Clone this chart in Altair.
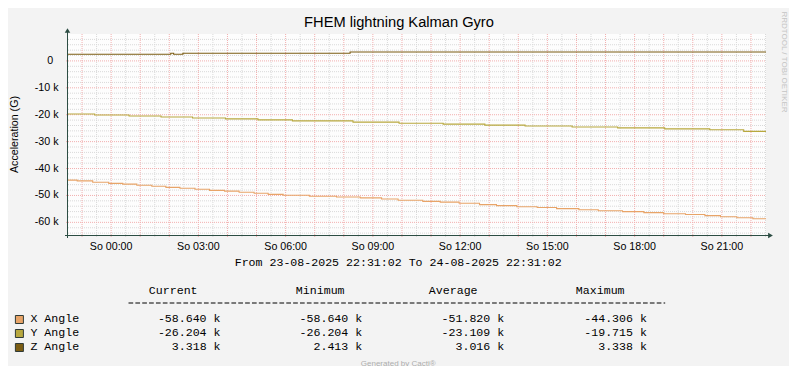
import altair as alt
import pandas as pd

# ---------------- data ----------------
TITLE = "FHEM lightning Kalman Gyro"
Y_TITLE = "Acceleration (G)"
START = "2025-08-23T22:31:02Z"
END = "2025-08-24T22:31:02Z"

x_angle_t = ["23 22:31:02", "23 22:50", "23 23:22", "23 23:55", "24 00:24", "24 00:53",
             "24 01:24", "24 01:53", "24 02:22", "24 02:53", "24 03:23", "24 03:54",
             "24 04:24", "24 04:55", "24 05:24", "24 05:55", "24 06:49", "24 07:45",
             "24 08:34", "24 09:18", "24 09:52", "24 10:43", "24 11:19", "24 11:58",
             "24 12:40", "24 13:15", "24 13:57", "24 14:39", "24 15:19", "24 16:05",
             "24 16:45", "24 17:35", "24 18:19", "24 19:00", "24 19:45", "24 20:25",
             "24 20:57", "24 21:31", "24 22:04", "24 22:31:02"]
x_angle_v = [-44.306, -44.6, -45.1, -45.5, -45.8, -46.2, -46.6, -47.0, -47.3, -47.7,
             -48.1, -48.4, -48.8, -49.2, -49.6, -49.9, -50.3, -50.6, -50.9, -51.3,
             -51.8, -52.2, -52.5, -52.9, -53.4, -53.8, -54.2, -54.5, -54.9, -55.3,
             -55.7, -56.0, -56.4, -56.8, -57.1, -57.5, -57.9, -58.3, -58.64, -58.64]

y_angle_t = ["23 22:31:02", "23 23:26", "24 00:37", "24 01:43", "24 02:48", "24 03:56",
             "24 05:03", "24 06:14", "24 08:19", "24 09:54", "24 11:25", "24 12:51",
             "24 14:14", "24 15:51", "24 17:25", "24 19:02", "24 20:35", "24 21:45",
             "24 22:31:02"]
y_angle_v = [-19.715, -20.1, -20.5, -20.85, -21.2, -21.55, -21.9, -22.3, -22.75, -23.15,
             -23.5, -23.85, -24.2, -24.55, -24.9, -25.25, -25.6, -26.204, -26.204]

z_angle_t = ["23 22:31:02", "24 02:03", "24 02:09", "24 02:28", "24 08:13", "24 22:31:02"]
z_angle_v = [2.45, 2.82, 2.45, 2.82, 3.318, 3.318]

series_names = ["X Angle", "Y Angle", "Z Angle"]
series_colors = ["#E8A468", "#B8A83E", "#7B5C12"]

stat_headers = ["Current", "Minimum", "Average", "Maximum"]
stat_current = [-58.640, -26.204, 3.318]
stat_minimum = [-58.640, -26.204, 2.413]
stat_average = [-51.820, -23.109, 3.016]
stat_maximum = [-44.306, -19.715, 3.338]

y_ticks = [-60, -50, -40, -30, -20, -10]
y_tick_labels = ["-60 k", "-50 k", "-40 k", "-30 k", "-20 k", "-10 k"]
zero_label = "0"

x_label_times = ["24 00:00", "24 03:00", "24 06:00", "24 09:00",
                 "24 12:00", "24 15:00", "24 18:00", "24 21:00"]
x_labels = ["So 00:00", "So 03:00", "So 06:00", "So 09:00",
            "So 12:00", "So 15:00", "So 18:00", "So 21:00"]

from_text = "From 23-08-2025 22:31:02 To 24-08-2025 22:31:02"
generated_text = "Generated by Cacti®"
watermark_text = "RRDTOOL / TOBI OETIKER"


def ts(s):
    d, t = s.split()
    if len(t) == 5:
        t = t + ":00"
    return f"2025-08-{d}T{t}Z"


# ---------------- styling ----------------
W, H = 698, 201
PAD = {"left": 60, "top": 26, "right": 23, "bottom": 131}
AXIS_C = "#2C4D43"
SANS = "Liberation Sans"
MONO = "Liberation Mono"
MINOR_C = "#D9D9D9"
MAJOR_C = "#F2AFAF"

start_ms = int(pd.Timestamp(START).value // 10**6)
end_ms = int(pd.Timestamp(END).value // 10**6)
xs = alt.Scale(type="utc", domain=[start_ms, end_ms])
ys = alt.Scale(domain=[-64.7, 10.0], nice=False, zero=False)

# line data
rows = []
for name, tl, vl in [("X Angle", x_angle_t, x_angle_v),
                     ("Y Angle", y_angle_t, y_angle_v),
                     ("Z Angle", z_angle_t, z_angle_v)]:
    for t, v in zip(tl, vl):
        rows.append({"time": ts(t), "value": v, "series": name})
df_lines = pd.DataFrame(rows)

# grid
major_times = pd.date_range("2025-08-23 23:00", "2025-08-24 22:00", freq="1h", tz="UTC")
minor_times = pd.date_range("2025-08-23 23:30", "2025-08-24 22:30", freq="1h", tz="UTC")
df_vmaj = pd.DataFrame({"t": [d.strftime("%Y-%m-%dT%H:%M:%SZ") for d in major_times]})
df_vmin = pd.DataFrame({"t": [d.strftime("%Y-%m-%dT%H:%M:%SZ") for d in minor_times]})
df_hmaj = pd.DataFrame({"v": [-60, -50, -40, -30, -20, -10, 0]})
df_hmin = pd.DataFrame({"v": [v for v in range(-64, 10, 2) if v % 10 != 0]})

layers = []

layers.append(alt.Chart(df_vmin).mark_rule(color=MINOR_C, strokeDash=[1, 1], strokeWidth=1).encode(
    x=alt.X("t:T", scale=xs, axis=None), y=alt.value(0), y2=alt.value(H + 2)))
layers.append(alt.Chart(df_hmin).mark_rule(color=MINOR_C, strokeDash=[1, 1], strokeWidth=1).encode(
    y=alt.Y("v:Q", scale=ys, axis=None), x=alt.value(0), x2=alt.value(W)))
layers.append(alt.Chart(df_vmaj).mark_rule(color=MAJOR_C, strokeDash=[1, 1], strokeWidth=1).encode(
    x=alt.X("t:T", scale=xs, axis=None), y=alt.value(0), y2=alt.value(H + 3)))
layers.append(alt.Chart(df_hmaj).mark_rule(color=MAJOR_C, strokeDash=[1, 1], strokeWidth=1).encode(
    y=alt.Y("v:Q", scale=ys, axis=None), x=alt.value(-2), x2=alt.value(W)))

layers.append(alt.Chart(df_lines).mark_line(interpolate="step-after", strokeWidth=1.1).encode(
    x=alt.X("time:T", scale=xs, axis=None),
    y=alt.Y("value:Q", scale=ys, axis=None),
    color=alt.Color("series:N", scale=alt.Scale(domain=series_names, range=series_colors), legend=None),
))

one = pd.DataFrame({"a": [0]})
# axes lines
layers.append(alt.Chart(one).mark_rule(color=AXIS_C, strokeWidth=1).encode(
    x=alt.value(-0.5), y=alt.value(-2), y2=alt.value(H + 3)))
layers.append(alt.Chart(one).mark_rule(color=AXIS_C, strokeWidth=1).encode(
    y=alt.value(H + 0.5), x=alt.value(-3), x2=alt.value(W + 3)))
layers.append(alt.Chart(one).mark_point(shape="triangle-up", filled=True, size=30, color=AXIS_C, opacity=1).encode(
    x=alt.value(-0.5), y=alt.value(-3.5)))
layers.append(alt.Chart(one).mark_point(shape="triangle-right", filled=True, size=30, color=AXIS_C, opacity=1).encode(
    x=alt.value(W + 4.5), y=alt.value(H + 0.5)))

# y labels
df_yl = pd.DataFrame({"v": y_ticks, "label": y_tick_labels})
layers.append(alt.Chart(df_yl).mark_text(align="right", baseline="middle", font=SANS, fontSize=10.67, color="#000").encode(
    y=alt.Y("v:Q", scale=ys, axis=None), x=alt.value(-9.5), text="label:N"))
layers.append(alt.Chart(pd.DataFrame({"v": [0], "label": [zero_label]})).mark_text(
    align="right", baseline="middle", font=SANS, fontSize=10.67, color="#000").encode(
    y=alt.Y("v:Q", scale=ys, axis=None), x=alt.value(-14.8), text="label:N"))

# x labels
df_xl = pd.DataFrame({"t": [ts(t) for t in x_label_times], "label": x_labels})
layers.append(alt.Chart(df_xl).mark_text(align="center", baseline="alphabetic", font=SANS, fontSize=10.67, color="#000").encode(
    x=alt.X("t:T", scale=xs, axis=None), y=alt.value(216), text="label:N"))


def txt(s, x, y, **kw):
    return alt.Chart(pd.DataFrame({"t": [s]})).mark_text(**kw).encode(
        text="t:N", x=alt.value(x), y=alt.value(y))


layers.append(txt(TITLE, 331, -7.5, align="center", baseline="alphabetic", font=SANS, fontSize=14.67, color="#000"))
layers.append(txt(Y_TITLE, -53.5, 100.5, align="center", baseline="middle", angle=270, font=SANS, fontSize=10.67, color="#000"))
layers.append(txt(from_text, 330.2, 232, align="center", baseline="alphabetic", font=MONO, fontSize=11.6, color="#000"))
layers.append(txt(generated_text, 330.2, 331.5, align="center", baseline="alphabetic", font=SANS, fontSize=8, color="#ADADAD"))
layers.append(txt(watermark_text, 715.5, 28, align="center", baseline="middle", angle=90, font=SANS, fontSize=8, color="#C4C4C4"))

# legend header
header_x = [105.2, 252.2, 385.2, 532.2]
for h, hx in zip(stat_headers, header_x):
    layers.append(txt(h, hx, 260, align="center", baseline="alphabetic", font=MONO, fontSize=11.6, color="#000"))
layers.append(alt.Chart(one).mark_rule(color="#000", strokeWidth=1, strokeDash=[4.7, 2.16]).encode(
    y=alt.value(269), x=alt.value(60.5), x2=alt.value(597.2)))

row_base = [288.3, 302.3, 316.3]
row_box = [285.5, 299.5, 313.5]
col_right = [152.5, 294.2, 436.2, 578.9]
stats = [stat_current, stat_minimum, stat_average, stat_maximum]
for i, name in enumerate(series_names):
    layers.append(alt.Chart(one).mark_square(size=64, filled=True, color=series_colors[i],
                                             stroke="#2F3A36", strokeWidth=1, opacity=1).encode(
        x=alt.value(-48.6), y=alt.value(row_box[i])))
    layers.append(txt(name, -37.6, row_base[i], align="left", baseline="alphabetic", font=MONO, fontSize=11.6, color="#000"))
    for col, cx in zip(stats, col_right):
        layers.append(txt(f"{col[i]:.3f} k", cx, row_base[i], align="right", baseline="alphabetic",
                          font=MONO, fontSize=11.6, color="#000"))

chart = alt.layer(*layers).properties(
    width=W, height=H, padding=PAD,
    autosize=alt.AutoSizeParams(type="none"),
    background="#F3F3F3",
).configure_view(fill="#FDFDFD", stroke=None)

chart.save("out.html", embed_options={"renderer": "svg", "actions": False})
